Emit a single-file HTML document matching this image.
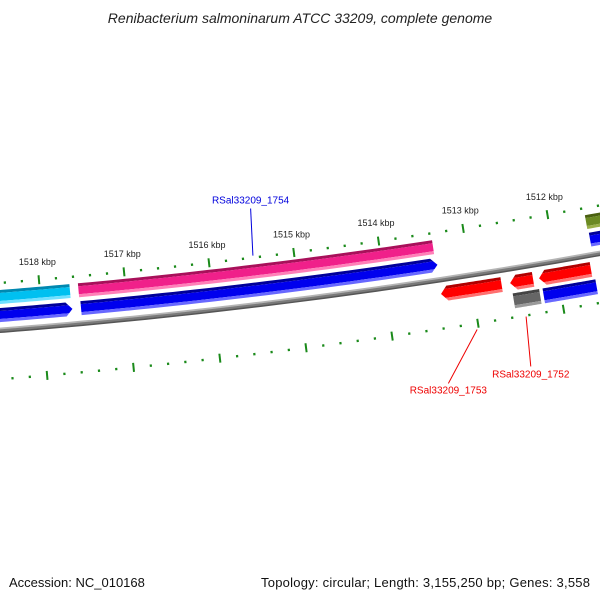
<!DOCTYPE html>
<html><head><meta charset="utf-8"><style>
body{margin:0;background:#fff}
svg{display:block;font-family:"Liberation Sans",sans-serif}
</style></head><body>
<svg id="map" width="600" height="600" viewBox="0 0 600 600">
<rect width="600" height="600" fill="#fff"/>
<text x="300" y="23" text-anchor="middle" font-size="14" font-style="italic" fill="#222">Renibacterium salmoninarum ATCC 33209, complete genome</text>
<text x="9" y="587" font-size="13" fill="#111">Accession: NC_010168</text>
<text x="590" y="587" text-anchor="end" font-size="13" textLength="329" fill="#111">Topology: circular; Length: 3,155,250 bp; Genes: 3,558</text>
<g id="ticks"></g><g id="feats"></g><g id="bb"></g><g id="labels"></g>
</svg>
<script>
// Genome data
const featStarts = [1517650, 1513380, 1510000, 1517640, 1513360, 1510000, 1512660, 1512290, 1511610, 1512240, 1511580];
const featEnds   = [1520000, 1517550, 1511570, 1520000, 1517540, 1511560, 1513370, 1512560, 1512220, 1512550, 1512200];
const featTracks = [1, 1, 1, 2, 2, 2, 3, 3, 3, 4, 4];
const featArrows = [0, 0, 0, -1, -1, -1, 1, 1, 1, 0, 0];
const featColors = ["cyan", "pink", "olive", "blue", "blue", "blue", "red", "red", "red", "grey", "blue"];
const featNames  = ["cyan-feature", "pink-feature", "olive-feature", "blue-gene-1", "blue-gene-2", "blue-gene-3", "gene-rsal33209-1753", "red-gene-2", "red-gene-3", "gene-rsal33209-1752", "blue-gene-4"];
const tickKbp = [1518, 1517, 1516, 1515, 1514, 1513, 1512];
const tickLabels = ["1518 kbp", "1517 kbp", "1516 kbp", "1515 kbp", "1514 kbp", "1513 kbp", "1512 kbp"];
const calloutNames = ["RSal33209_1754", "RSal33209_1753", "RSal33209_1752"];
const calloutBp = [1515480, 1513020, 1512440];
const calloutColors = ["#0000dd", "#ee0000", "#ee0000"];

const NS = "http://www.w3.org/2000/svg";
const cx = -482, cy = -5804, R0 = 6153;
function phi(bp){ return (82.70 + (bp - 1515000) * 0.000802) * Math.PI / 180; }
function pt(bp, r){ const a = phi(bp); return [cx + r*Math.cos(a), cy + r*Math.sin(a)]; }
const trackR = {1:[-40,-26], 2:[-22,-8], 3:[7,22], 4:[25,40]};
const pal = {
 cyan:["#0088b0","#00c0f0","#70e0ff"], pink:["#a8105a","#f0208a","#ff80b8"],
 olive:["#4a6010","#6b8a22","#9ab048"], blue:["#000098","#0000ee","#6868ff"],
 red:["#b00000","#ff0000","#ff7070"], grey:["#444","#666","#9a9a9a"]
};
function arcPts(b1, b2, r, n){ const a=[]; for(let i=0;i<=n;i++){ a.push(pt(b1+(b2-b1)*i/n, r)); } return a; }
function poly(points){ return points.map(p=>p[0].toFixed(2)+","+p[1].toFixed(2)).join(" "); }
const svg = document.getElementById("map");
const defs = document.createElementNS(NS,"defs"); svg.appendChild(defs);

// ticks
const tg = document.getElementById("ticks");
for (let bp = 1509000; bp <= 1521000; bp += 200){
  const major = bp % 1000 === 0;
  [R0-47, R0+49].forEach((rr, ringIdx) => {
    const h = major ? 4.5 : 1.2;
    const p1 = pt(bp, rr-h), p2 = pt(bp, rr+h);
    const l = document.createElementNS(NS,"line");
    l.setAttribute("x1",p1[0]); l.setAttribute("y1",p1[1]); l.setAttribute("x2",p2[0]); l.setAttribute("y2",p2[1]);
    l.setAttribute("stroke","#1a8a1a"); l.setAttribute("stroke-width", major?2:2.2);
    
    
    tg.appendChild(l);
  });
}
tickKbp.forEach((k, i) => {
  const p = pt(k*1000, R0-65);
  const t = document.createElementNS(NS,"text");
  t.setAttribute("x", p[0]); t.setAttribute("y", p[1]+3);
  t.setAttribute("text-anchor","middle"); t.setAttribute("font-size","9"); t.setAttribute("fill","#222");
  t.textContent = tickLabels[i];
  
  
  tg.appendChild(t);
});

// features
const fg = document.getElementById("feats");
featStarts.forEach((s, i) => {
  const e = featEnds[i], r = trackR[featTracks[i]], r1 = R0 + r[0], r2 = R0 + r[1], rm = (r1+r2)/2;
  const head = 75;
  let pts = [];
  if (featArrows[i] === -1){
    pts = arcPts(s+head, e, r1, 30).concat(arcPts(e, s+head, r2, 30)); pts.push(pt(s, rm));
  } else if (featArrows[i] === 1){
    pts = arcPts(s, e-head, r1, 30); pts.push(pt(e, rm)); pts = pts.concat(arcPts(e-head, s, r2, 30));
  } else {
    pts = arcPts(s, e, r1, 30).concat(arcPts(e, s, r2, 30));
  }
  const cp = document.createElementNS(NS,"clipPath"); cp.setAttribute("id","cp"+i);
  const cpp = document.createElementNS(NS,"polygon"); cpp.setAttribute("points", poly(pts)); cp.appendChild(cpp); defs.appendChild(cp);
  const g = document.createElementNS(NS,"g"); g.setAttribute("clip-path","url(#cp"+i+")");
  
  
  const c = pal[featColors[i]];
  const bands = [[r1-2, r1+3, c[0]], [r1+3, r2-3, c[1]], [r2-3, r2+2, c[2]]];
  bands.forEach(bd => {
    const pp = arcPts(s-200, e+200, bd[0], 30).concat(arcPts(e+200, s-200, bd[1], 30));
    const pg = document.createElementNS(NS,"polygon"); pg.setAttribute("points", poly(pp)); pg.setAttribute("fill", bd[2]);
    g.appendChild(pg);
  });
  fg.appendChild(g);
});

// backbone
const bb = document.getElementById("bb");
[[R0-1.5, "#b5b5b5", 2], [R0+0.5, "#7a7a7a", 2.5], [R0+2.2, "#555", 1.5]].forEach(x => {
  const pl = document.createElementNS(NS,"polyline");
  pl.setAttribute("points", poly(arcPts(1509000, 1521000, x[0], 80)));
  pl.setAttribute("fill","none"); pl.setAttribute("stroke", x[1]); pl.setAttribute("stroke-width", x[2]);
  
  
  bb.appendChild(pl);
});

// callouts
const lg = document.getElementById("labels");
const calloutGeom = [[-49, -96, 0, -5], [55, 104, 1, 10], [50, 100, 0, 11]];
const calloutShift = [-40, 420, 40];
calloutNames.forEach((nm, i) => {
  const g = calloutGeom[i];
  const p1 = pt(calloutBp[i], R0 + g[0]);
  const p2 = pt(calloutBp[i] + calloutShift[i], R0 + g[1]);
  const l = document.createElementNS(NS,"line");
  l.setAttribute("x1",p1[0]); l.setAttribute("y1",p1[1]); l.setAttribute("x2",p2[0]); l.setAttribute("y2",p2[1]);
  l.setAttribute("stroke", calloutColors[i]); l.setAttribute("stroke-width","1");
  
  
  lg.appendChild(l);
  const t = document.createElementNS(NS,"text");
  t.setAttribute("x", p2[0]); t.setAttribute("y", p2[1] + g[3]);
  t.setAttribute("text-anchor","middle"); t.setAttribute("font-size","10"); t.setAttribute("fill", calloutColors[i]);
  t.textContent = nm;
  
  
  lg.appendChild(t);
});
</script>
</body></html>
